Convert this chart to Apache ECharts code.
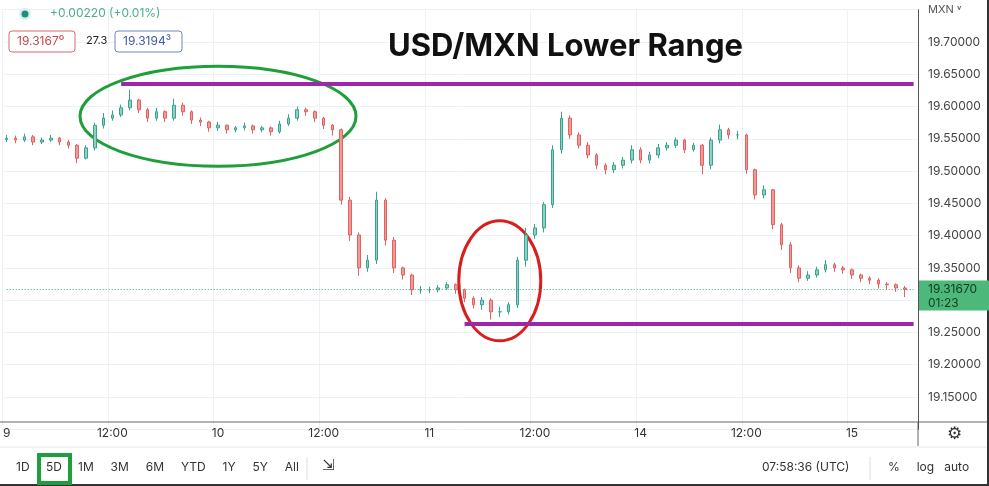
<!DOCTYPE html>
<html><head><meta charset="utf-8">
<script src="https://cdn.jsdelivr.net/npm/echarts@6/dist/echarts.min.js"></script>
<style>html,body{margin:0;padding:0;background:#fff}#chart{width:989px;height:486px}</style>
</head><body>
<div id="chart"></div>
<script>
// hourly candles, USD/MXN, 9th 00:00 onwards (weekend skipped)
const dayLabels = ['9', '12:00', '10', '12:00', '11', '12:00', '14', '12:00', '15'];
const closes = [19.551,19.548,19.553,19.545,19.548,19.551,19.545,19.540,19.520,19.536,
  19.571,19.582,19.587,19.598,19.610,19.595,19.582,19.592,19.582,19.602,
  19.592,19.579,19.576,19.567,19.571,19.564,19.567,19.570,19.564,19.567,
  19.561,19.573,19.582,19.595,19.592,19.582,19.571,19.564,19.455,19.401,
  19.350,19.362,19.455,19.393,19.350,19.339,19.316,19.316,19.316,19.319,
  19.324,19.316,19.303,19.293,19.300,19.282,19.282,19.293,19.362,19.401,
  19.412,19.448,19.533,19.582,19.556,19.540,19.525,19.509,19.502,19.509,
  19.517,19.533,19.517,19.525,19.536,19.540,19.548,19.533,19.540,19.509,
  19.548,19.564,19.556,19.556,19.502,19.463,19.471,19.417,19.386,19.350,
  19.334,19.339,19.347,19.355,19.350,19.347,19.339,19.334,19.331,19.325,
  19.324,19.319,19.3167];
const highs = [19.556,19.555,19.558,19.556,19.552,19.556,19.553,19.548,19.542,19.540,
  19.575,19.590,19.594,19.603,19.626,19.612,19.598,19.598,19.594,19.612,
  19.606,19.594,19.583,19.578,19.576,19.572,19.570,19.575,19.572,19.570,
  19.569,19.578,19.588,19.600,19.598,19.594,19.584,19.573,19.566,19.460,
  19.405,19.370,19.468,19.458,19.398,19.352,19.341,19.322,19.321,19.323,
  19.328,19.326,19.318,19.306,19.305,19.303,19.290,19.297,19.367,19.412,
  19.418,19.452,19.540,19.592,19.586,19.560,19.545,19.528,19.512,19.514,
  19.522,19.540,19.537,19.530,19.542,19.545,19.552,19.550,19.544,19.542,
  19.552,19.572,19.567,19.562,19.558,19.504,19.478,19.472,19.420,19.390,
  19.354,19.345,19.352,19.362,19.358,19.353,19.349,19.341,19.337,19.334,
  19.328,19.326,19.322];
const lows = [19.545,19.543,19.545,19.540,19.542,19.545,19.540,19.535,19.512,19.518,
  19.532,19.566,19.578,19.584,19.594,19.590,19.576,19.578,19.576,19.578,
  19.586,19.573,19.570,19.561,19.562,19.558,19.560,19.563,19.558,19.560,
  19.555,19.558,19.570,19.578,19.586,19.576,19.565,19.555,19.448,19.392,
  19.338,19.344,19.356,19.385,19.342,19.332,19.308,19.310,19.311,19.312,
  19.316,19.310,19.297,19.287,19.285,19.270,19.274,19.278,19.288,19.352,
  19.395,19.405,19.443,19.527,19.550,19.535,19.520,19.503,19.495,19.497,
  19.504,19.512,19.512,19.512,19.520,19.532,19.536,19.528,19.530,19.495,
  19.503,19.543,19.550,19.549,19.496,19.456,19.458,19.410,19.378,19.342,
  19.328,19.330,19.335,19.343,19.344,19.341,19.333,19.328,19.325,19.318,
  19.317,19.313,19.305];
const rangeHigh = 19.635;
const rangeLow = 19.263;
const lastPrice = 19.3167;

const cats = [];
for (let i = 0; i < 104; i++) cats.push(i % 12 === 0 ? dayLabels[i / 12] : '');
// open = previous close
const ohlc = closes.map((c, i) => [i === 0 ? 19.549 : closes[i - 1], c, lows[i], highs[i]]);

const chart = echarts.init(document.getElementById('chart'));
const font = 'Inter, "Noto Sans", sans-serif';
const purple = '#9c27a8';
chart.setOption({
  animation: false,
  grid: { left: -2, right: 71, top: 9.7, bottom: 56.7 },
  xAxis: {
    type: 'category', data: cats, boundaryGap: true,
    axisLine: { show: false }, axisTick: { show: false },
    axisLabel: { interval: i => i % 12 === 0, color: '#333', fontSize: 12, margin: -2, fontFamily: font },
    splitLine: { show: true, interval: i => i % 12 === 0, lineStyle: { color: '#eef1f6' } }
  },
  yAxis: {
    type: 'value', position: 'right', min: 19.10, max: 19.75, interval: 0.05,
    axisLine: { show: true, lineStyle: { color: '#555' } }, axisTick: { show: false },
    axisLabel: {
      color: '#444', fontSize: 12, margin: 10, fontFamily: font,
      formatter: v => (v > 19.72 || v < 19.12) ? '' : v.toFixed(5)
    },
    splitLine: { lineStyle: { color: '#eef1f6' } }
  },
  series: [{
    type: 'candlestick', data: ohlc, barWidth: '35%',
    itemStyle: { color: '#8fcfc4', color0: '#f29a98', borderColor: '#3aa38f', borderColor0: '#e0625e', borderWidth: 1 },
    markLine: {
      symbol: 'none', silent: true, label: { show: false },
      data: [
        [{ coord: [13, rangeHigh], lineStyle: { color: purple, width: 4, type: 'solid' } }, { coord: [103, rangeHigh] }],
        [{ coord: [52, rangeLow], lineStyle: { color: purple, width: 4, type: 'solid' } }, { coord: [103, rangeLow] }],
        [{ coord: [0, lastPrice], lineStyle: { color: '#3aa38f', width: 1, type: [1, 2] } }, { coord: [103, lastPrice] }]
      ]
    }
  }]
});

const g = (i, v) => chart.convertToPixel({ gridIndex: 0 }, [i, v]);
const pc = g(0, lastPrice);
const e1 = g(24, 19.585), e2 = g(56, 19.33);
chart.setOption({
  graphic: { elements: [
    { type: 'ellipse', shape: { cx: e1[0], cy: e1[1], rx: 138, ry: 50 }, style: { fill: 'none', stroke: '#1f9e3a', lineWidth: 3 } },
    { type: 'ellipse', shape: { cx: e2[0], cy: e2[1], rx: 41, ry: 60 }, style: { fill: 'none', stroke: '#d81f1f', lineWidth: 3 } },
    { type: 'text', left: 388, top: 31, style: { text: 'USD/MXN Lower Range', font: 'bold 31px ' + font, fill: '#111' } },
    // header
    { type: 'circle', shape: { cx: 25, cy: 14, r: 6 }, style: { fill: '#d6f1ec' } },
    { type: 'circle', shape: { cx: 25, cy: 14, r: 3.5 }, style: { fill: '#1e8f78' } },
    { type: 'text', left: 50, top: 7, style: { text: '+0.00220 (+0.01%)', font: '12px ' + font, fill: '#4caf8a' } },
    { type: 'rect', shape: { x: 9, y: 31, width: 66, height: 21, r: 3 }, style: { fill: '#fff', stroke: '#d9686a' } },
    { type: 'text', left: 17, top: 35, style: { text: '19.3167\u2070', font: '12px ' + font, fill: '#c94848' } },
    { type: 'text', left: 86, top: 35, style: { text: '27.3', font: '11px ' + font, fill: '#222' } },
    { type: 'rect', shape: { x: 115, y: 31, width: 67, height: 21, r: 3 }, style: { fill: '#fff', stroke: '#6d84c8' } },
    { type: 'text', left: 123, top: 35, style: { text: '19.3194\u00b3', font: '12px ' + font, fill: '#3f5aa8' } },
    { type: 'text', left: 928, top: 4, style: { text: 'MXN \u02c5', font: '11px ' + font, fill: '#555' } },
    // last price tag
    { type: 'rect', z: 200, shape: { x: 919, y: pc[1] - 9, width: 70, height: 30 }, style: { fill: '#4cb87a' } },
    { type: 'text', z: 201, left: 928, top: pc[1] - 7, style: { text: '19.31670\n01:23', font: '12px ' + font, fill: '#103a22', lineHeight: 14 } },
    // frame
    { type: 'line', shape: { x1: 0, y1: 422, x2: 989, y2: 422 }, style: { stroke: '#666', lineWidth: 1 } },
    { type: 'line', shape: { x1: 918, y1: 422, x2: 918, y2: 446 }, style: { stroke: '#666', lineWidth: 1 } },
    { type: 'line', shape: { x1: 0, y1: 447, x2: 989, y2: 447 }, style: { stroke: '#e6e6e6', lineWidth: 1 } },
    { type: 'rect', shape: { x: 0, y: 484, width: 989, height: 2 }, style: { fill: '#333' } },
    { type: 'rect', shape: { x: 987, y: 0, width: 2, height: 486 }, style: { fill: '#333' } },
    { type: 'text', left: 947, top: 426, style: { text: '\u2699', font: '17px "DejaVu Sans"', fill: '#333' } },
    // toolbar
    { type: 'text', left: 16, top: 461, style: { text: '1D', font: '12px ' + font, fill: '#333' } },
    { type: 'rect', shape: { x: 39, y: 455, width: 31, height: 28 }, style: { fill: 'none', stroke: '#1e9e3c', lineWidth: 4 } },
    { type: 'text', left: 46, top: 461, style: { text: '5D', font: '12px ' + font, fill: '#333' } },
    { type: 'text', left: 78, top: 461, style: { text: '1M     3M     6M     YTD     1Y     5Y     All', font: '12px ' + font, fill: '#333' } },
    { type: 'line', shape: { x1: 307, y1: 457, x2: 307, y2: 480 }, style: { stroke: '#ddd' } },
    { type: 'text', left: 322, top: 459, style: { text: '\u21f2', font: '15px "DejaVu Sans"', fill: '#333' } },
    { type: 'text', left: 762, top: 461, style: { text: '07:58:36 (UTC)', font: '12px ' + font, fill: '#333' } },
    { type: 'line', shape: { x1: 870, y1: 457, x2: 870, y2: 480 }, style: { stroke: '#ddd' } },
    { type: 'text', left: 888, top: 461, style: { text: '%     log   auto', font: '12px ' + font, fill: '#333' } }
  ] }
});
</script>
</body></html>
